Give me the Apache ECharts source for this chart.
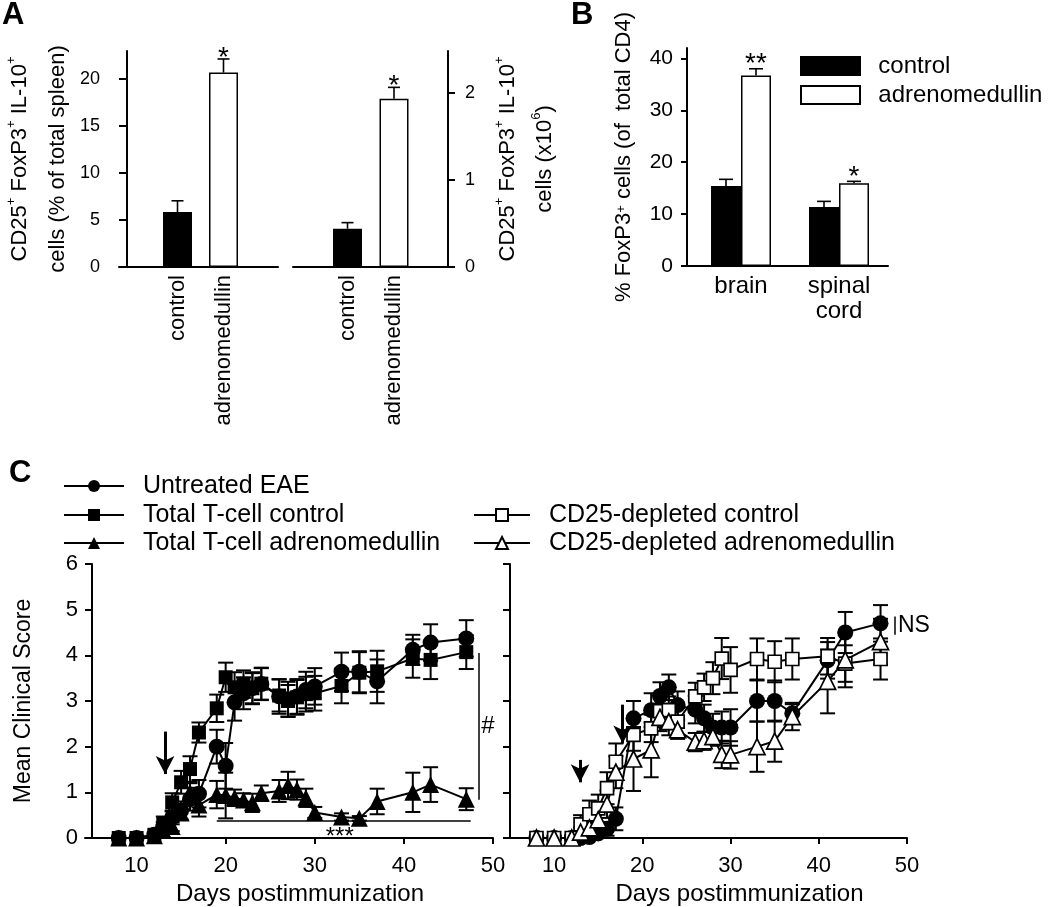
<!DOCTYPE html>
<html><head><meta charset="utf-8">
<script src="https://cdn.jsdelivr.net/npm/echarts@6/dist/echarts.min.js"></script>
<style>html,body{margin:0;padding:0;background:#fff}#c{width:1050px;height:907px}</style>
</head><body><div id="c"></div><script>
const FONT = '"Liberation Sans", Arial, Helvetica, sans-serif';
const BLACK = '#000';

// ---------- Panel A ----------
const aCategories = ['control', 'adrenomedullin'];
const aPercent = [5.85, 20.7];
const aPercentErr = [1.2, 1.45];
const aCount = [0.44, 1.935];
const aCountErr = [0.07, 0.13];
const aSig = ['', '*'];
const aPercentTicks = [0, 5, 10, 15, 20];
const aCountTicks = [0, 1, 2];

// ---------- Panel B ----------
const bCategories = ['brain', 'spinal\ncord'];
const bControl = [15.4, 11.35];
const bControlErr = [1.3, 1.1];
const bAdm = [36.7, 15.96];
const bAdmErr = [1.3, 0.35];
const bControlSig = ['', ''];
const bAdmSig = ['**', '*'];
const bTicks = [0, 10, 20, 30, 40];

// ---------- Panel C ----------
const cDayTicks = [10, 20, 30, 40, 50];
const cScoreTicks = [0, 1, 2, 3, 4, 5, 6];
const daysLeft = [8,10,12,13,14,15,16,17,19,20,21,22,23,24,26,27,28,29,30,33,35,37,41,43,47];
const eaeLeft = [0,0,0.07,0.25,0.45,0.6,0.85,0.97,2.0,1.58,2.97,3.17,3.28,3.37,3.1,3.04,3.1,3.24,3.32,3.64,3.64,3.43,4.12,4.28,4.37];
const eaeLeftErr = [0,0,0.05,0.1,0.15,0.2,0.25,0.3,0.37,0.5,0.4,0.35,0.35,0.35,0.38,0.38,0.38,0.4,0.4,0.42,0.45,0.48,0.33,0.4,0.4];
const tcControl = [0,0,0.07,0.32,0.78,1.22,1.51,2.31,2.84,3.52,3.3,3.37,3.28,3.38,3.12,3.0,3.08,3.15,3.17,3.33,3.62,3.65,3.93,3.9,4.07];
const tcControlErr = [0,0,0.05,0.15,0.2,0.25,0.28,0.22,0.3,0.32,0.33,0.3,0.33,0.35,0.35,0.35,0.38,0.38,0.38,0.38,0.45,0.45,0.42,0.42,0.37];
const tcAdm = [0,0,0.05,0.17,0.25,0.55,1.0,0.72,0.95,0.93,0.88,0.83,0.77,0.98,1.03,1.15,1.06,0.88,0.56,0.46,0.43,0.8,1.0,1.17,0.85];
const tcAdmErr = [0,0,0.04,0.08,0.1,0.15,0.2,0.25,0.3,0.5,0.18,0.15,0.2,0.17,0.24,0.3,0.22,0.2,0.12,0.08,0.05,0.28,0.43,0.38,0.24];

const daysRight = [8,10,12,13,14,15,16,17,19,21,22,23,24,26,27,28,29,30,33,35,37,41,43,47];
const eaeRight = [0,0,0,0,0.02,0.1,0.2,0.42,2.62,2.8,3.11,3.3,2.91,2.81,2.62,2.42,2.42,2.42,3.0,3.0,2.73,3.89,4.5,4.7];
const eaeRightErr = [0,0,0,0,0.05,0.1,0.15,0.25,0.38,0.37,0.3,0.28,0.3,0.3,0.3,0.3,0.35,0.4,0.45,0.45,0.2,0.4,0.45,0.4];
const cdControl = [0,0,0,0.3,0.52,0.65,1.09,1.67,2.26,2.4,2.78,2.8,2.55,3.1,3.3,3.5,3.93,3.68,3.92,3.86,3.92,3.98,3.82,3.92];
const cdControlErr = [0,0,0,0.2,0.3,0.3,0.35,0.4,0.35,0.3,0.35,0.3,0.3,0.3,0.3,0.35,0.45,0.5,0.45,0.45,0.45,0.4,0.4,0.45];
const cdAdm = [0,0,0,0.13,0.22,0.4,0.74,1.44,1.73,1.93,2.64,2.55,2.37,2.1,2.13,2.22,1.83,1.82,2.0,2.12,2.66,3.43,3.9,4.3];
const cdAdmErr = [0,0,0,0.1,0.15,0.2,0.3,0.35,0.7,0.6,0.3,0.3,0.2,0.2,0.2,0.2,0.3,0.3,0.55,0.45,0.3,0.7,0.6,0.5];

// ---------- helpers ----------
const lineSt = {color: BLACK, width: 2};
function dummyX(g) {
  return {type: 'value', gridIndex: g, min: 0, max: 1, axisLine: {show: true, onZero: false, lineStyle: lineSt},
    axisTick: {show: false}, axisLabel: {show: false}, splitLine: {show: false}};
}
function hiddenY(g, max) {
  return {type: 'value', gridIndex: g, min: 0, max: max, show: false, splitLine: {show: false}};
}
function visY(g, max, ticks, o) {
  return Object.assign({type: 'value', gridIndex: g, min: 0, max: max,
    axisLine: {show: true, onZero: false, lineStyle: lineSt},
    axisTick: {show: true, inside: false, length: o.tickLen || 7, lineStyle: lineSt, customValues: ticks},
    axisLabel: {show: o.labels !== false, customValues: ticks, color: BLACK, fontFamily: FONT, fontSize: o.fontSize || 18, margin: o.margin || 10},
    splitLine: {show: false}}, o.extra || {});
}
function catX(g, cats, o) {
  return {type: 'category', gridIndex: g, data: cats, axisLine: {show: false}, axisTick: {show: false},
    axisLabel: Object.assign({color: BLACK, fontFamily: FONT, interval: 0}, o)};
}
function barErr(xi, vals, errs, sig, dx, cap, starDy) {
  return {type: 'custom', xAxisIndex: xi, yAxisIndex: xi, silent: true, z: 5,
    data: vals.map((v, i) => [i, v, errs[i]]),
    renderItem(params, api) {
      const i = api.value(0), v = api.value(1), e = api.value(2);
      const p0 = api.coord([i, v]), p1 = api.coord([i, v + e]);
      const x = p0[0] + dx;
      const ch = [
        {type: 'line', shape: {x1: x, y1: p0[1], x2: x, y2: p1[1]}, style: {stroke: BLACK, lineWidth: 1.6}},
        {type: 'line', shape: {x1: x - cap, y1: p1[1], x2: x + cap, y2: p1[1]}, style: {stroke: BLACK, lineWidth: 1.6}}
      ];
      const s = sig[params.dataIndex];
      if (s) ch.push({type: 'text', x: x, y: p1[1] + starDy,
        style: {text: s, font: '28px ' + FONT, fill: BLACK, align: 'center', verticalAlign: 'middle'}});
      return {type: 'group', children: ch};
    }};
}
function lineErr(xi, days, vals, errs) {
  return {type: 'custom', xAxisIndex: xi, yAxisIndex: xi, silent: true, z: 2,
    data: days.map((d, i) => [d, vals[i], errs[i]]),
    renderItem(params, api) {
      const x = api.value(0), v = api.value(1), e = api.value(2);
      if (!e) return null;
      const t = api.coord([x, v + e]), b = api.coord([x, Math.max(0, v - e)]);
      const w = 7.5;
      const st = {stroke: BLACK, lineWidth: 2};
      return {type: 'group', children: [
        {type: 'line', shape: {x1: t[0], y1: t[1], x2: b[0], y2: b[1]}, style: st},
        {type: 'line', shape: {x1: t[0] - w, y1: t[1], x2: t[0] + w, y2: t[1]}, style: st},
        {type: 'line', shape: {x1: b[0] - w, y1: b[1], x2: b[0] + w, y2: b[1]}, style: st}
      ]};
    }};
}
function lineSeries(name, xi, days, vals, symbol, size, filled, extra) {
  return Object.assign({name: name, type: 'line', xAxisIndex: xi, yAxisIndex: xi,
    data: days.map((d, i) => [d, vals[i]]), symbol: symbol, symbolSize: size, showAllSymbol: true,
    lineStyle: {color: BLACK, width: 2},
    itemStyle: {color: filled ? BLACK : '#fff', borderColor: BLACK, borderWidth: filled ? 0 : 1.7},
    z: 3}, extra || {});
}
const sup = {fontSize: 13, fontFamily: FONT, color: BLACK, verticalAlign: 'top', lineHeight: 14, padding: [4, 0, 0, 0]};
const arrowEnd = {symbol: 'arrow', symbolSize: [14, 18]};
const legendText = {color: BLACK, fontFamily: FONT, fontSize: 25, lineHeight: 26};
function cLegend(name, left, top, w) {
  return {data: [name], left: left, top: top, orient: 'vertical', padding: 0, itemWidth: w, itemHeight: 15,
    selectedMode: false, textStyle: legendText, formatter: n => '  ' + n};
}

const option = {
  animation: false,
  backgroundColor: '#fff',
  textStyle: {fontFamily: FONT},
  graphic: [
    {type: 'text', left: 2, top: 0, style: {text: 'A', font: 'bold 31px ' + FONT, fill: BLACK}},
    {type: 'text', left: 571, top: 0, style: {text: 'B', font: 'bold 31px ' + FONT, fill: BLACK}},
    {type: 'text', left: 9, top: 458, style: {text: 'C', font: 'bold 31px ' + FONT, fill: BLACK}}
  ],
  legend: [
    {data: ['control', 'adrenomedullin'], left: 800, top: 54, orient: 'vertical', padding: 0, itemGap: 5,
      itemWidth: 59, itemHeight: 18, icon: 'rect', selectedMode: false,
      textStyle: {color: BLACK, fontFamily: FONT, fontSize: 24, lineHeight: 24}, formatter: n => '  ' + n},
    cLegend('Untreated EAE', 63, 473, 60),
    cLegend('Total T-cell control', 63, 502, 60),
    cLegend('Total T-cell adrenomedullin', 63, 530, 60),
    cLegend('CD25-depleted control', 473, 502, 56),
    cLegend('CD25-depleted adrenomedullin', 473, 530, 56)
  ],
  grid: [
    {left: 116, top: 51, width: 162, height: 216},
    {left: 154.5, top: 51, width: 92, height: 216},
    {left: 293, top: 51, width: 155, height: 216},
    {left: 324.25, top: 51, width: 93, height: 216},
    {left: 687, top: 48, width: 201, height: 218},
    {left: 692, top: 48, width: 196, height: 218},
    {left: 85, top: 564, width: 408, height: 274},
    {left: 510, top: 564, width: 397, height: 274}
  ],
  xAxis: [
    dummyX(0),
    catX(1, aCategories, {rotate: 90, fontSize: 22, margin: 8}),
    dummyX(2),
    catX(3, aCategories, {rotate: 90, fontSize: 22, margin: 8}),
    dummyX(4),
    catX(5, bCategories, {fontSize: 24, lineHeight: 25, margin: 8}),
    {type: 'value', gridIndex: 6, min: 4.2145, max: 50,
      axisLine: {show: true, onZero: false, lineStyle: lineSt},
      axisTick: {show: true, length: 6, lineStyle: lineSt, customValues: cDayTicks},
      axisLabel: {customValues: cDayTicks, color: BLACK, fontFamily: FONT, fontSize: 22, margin: 17},
      splitLine: {show: false},
      name: 'Days postimmunization', nameLocation: 'middle', nameGap: 44,
      nameTextStyle: {color: BLACK, fontFamily: FONT, fontSize: 24, padding: [0, 0, 0, 22]}},
    {type: 'value', gridIndex: 7, min: 5, max: 50,
      axisLine: {show: true, onZero: false, lineStyle: lineSt},
      axisTick: {show: true, length: 6, lineStyle: lineSt, customValues: cDayTicks},
      axisLabel: {customValues: cDayTicks, color: BLACK, fontFamily: FONT, fontSize: 22, margin: 17},
      splitLine: {show: false},
      name: 'Days postimmunization', nameLocation: 'middle', nameGap: 44,
      nameTextStyle: {color: BLACK, fontFamily: FONT, fontSize: 24, padding: [0, 0, 0, 62]}}
  ],
  yAxis: [
    visY(0, 23, aPercentTicks, {fontSize: 18, margin: 27, tickLen: 8, extra: {offset: -8,
      name: '{m|CD25}{s|+}{m| FoxP3}{s|+}{m| IL-10}{s|+}\n{m|cells (% of total spleen)}',
      nameLocation: 'middle', nameGap: 50,
      nameTextStyle: {color: BLACK, rich: {m: {fontSize: 22, fontFamily: FONT, color: BLACK, lineHeight: 38}, s: sup}}}}),
    hiddenY(1, 23),
    visY(2, 2.483, aCountTicks, {fontSize: 18, margin: 17, tickLen: 7, extra: {position: 'right',
      name: '{m|CD25}{s|+}{m| FoxP3}{s|+}{m| IL-10}{s|+}\n{m|cells (x10}{s|6}{m|)}',
      nameLocation: 'middle', nameGap: 41,
      nameTextStyle: {color: BLACK, rich: {m: {fontSize: 22, fontFamily: FONT, color: BLACK, lineHeight: 37}, s: sup}}}}),
    hiddenY(3, 2.483),
    visY(4, 42, bTicks, {fontSize: 21, margin: 14, tickLen: 6, extra: {
      name: '{m|% FoxP3}{s|+}{m| cells (of  total CD4)}',
      nameLocation: 'middle', nameGap: 50,
      nameTextStyle: {color: BLACK, rich: {m: {fontSize: 22, fontFamily: FONT, color: BLACK, lineHeight: 26}, s: sup}}}}),
    hiddenY(5, 42),
    visY(6, 6, cScoreTicks, {fontSize: 22, margin: 14, tickLen: 7, extra: {offset: -7, interval: 1,
      name: 'Mean Clinical Score', nameLocation: 'middle', nameGap: 57,
      nameTextStyle: {color: BLACK, fontFamily: FONT, fontSize: 23}}}),
    visY(7, 6, cScoreTicks, {labels: false, tickLen: 7, extra: {interval: 1}})
  ],
  series: [
    // Panel A
    {name: 'pct', type: 'bar', xAxisIndex: 1, yAxisIndex: 1, barWidth: 29,
      data: aPercent.map((v, i) => ({value: v, itemStyle: {color: ['#000', '#fff'][i]}})),
      itemStyle: {borderColor: BLACK, borderWidth: 1.5}},
    barErr(1, aPercent, aPercentErr, aSig, 0, 6, -1),
    {name: 'cnt', type: 'bar', xAxisIndex: 3, yAxisIndex: 3, barWidth: 29,
      data: aCount.map((v, i) => ({value: v, itemStyle: {color: ['#000', '#fff'][i]}})),
      itemStyle: {borderColor: BLACK, borderWidth: 1.5}},
    barErr(3, aCount, aCountErr, aSig, 0, 6, -1),
    // Panel B
    {name: 'control', type: 'bar', xAxisIndex: 5, yAxisIndex: 5, barWidth: 30, barGap: '0%',
      data: bControl, itemStyle: {color: BLACK, borderColor: BLACK, borderWidth: 1.5}},
    {name: 'adrenomedullin', type: 'bar', xAxisIndex: 5, yAxisIndex: 5, barWidth: 30, barGap: '0%',
      data: bAdm, itemStyle: {color: '#fff', borderColor: BLACK, borderWidth: 1.5}},
    barErr(5, bControl, bControlErr, bControlSig, -15, 7, -4),
    barErr(5, bAdm, bAdmErr, bAdmSig, 15, 7, -4),
    // Panel C left
    lineErr(6, daysLeft, eaeLeft, eaeLeftErr),
    lineErr(6, daysLeft, tcControl, tcControlErr),
    lineErr(6, daysLeft, tcAdm, tcAdmErr),
    lineSeries('Untreated EAE', 6, daysLeft, eaeLeft, 'circle', 16, true),
    lineSeries('Total T-cell control', 6, daysLeft, tcControl, 'rect', 14, true),
    lineSeries('Total T-cell adrenomedullin', 6, daysLeft, tcAdm, 'triangle', 17, true, {
      markLine: {silent: true, symbol: ['none', 'none'], label: {show: false}, animation: false,
        lineStyle: {color: BLACK, width: 1.5, type: 'solid'},
        data: [
          [{coord: [19, 0.38]}, {coord: [47.5, 0.38]}],
          [{coord: [48.4, 4.05]}, {coord: [48.4, 0.84]}],
          [{coord: [13.2, 2.33], lineStyle: {width: 3}}, Object.assign({coord: [13.2, 1.4]}, arrowEnd)]
        ]},
      markPoint: {silent: true, symbol: 'circle', symbolSize: 0, animation: false,
        label: {show: true, position: 'inside', color: BLACK, fontFamily: FONT, fontSize: 24},
        data: [
          {coord: [49.44, 2.45], label: {formatter: '#'}},
          {coord: [32.8, 0.12], label: {formatter: '***', offset: [0, 5]}}
        ]}
    }),
    // Panel C right
    lineErr(7, daysRight, eaeRight, eaeRightErr),
    lineErr(7, daysRight, cdControl, cdControlErr),
    lineErr(7, daysRight, cdAdm, cdAdmErr),
    lineSeries('Untreated EAE', 7, daysRight, eaeRight, 'circle', 16, true),
    lineSeries('CD25-depleted control', 7, daysRight, cdControl, 'rect', 13, false),
    lineSeries('CD25-depleted adrenomedullin', 7, daysRight, cdAdm, 'triangle', 16, false, {
      markLine: {silent: true, symbol: ['none', 'none'], label: {show: false}, animation: false,
        lineStyle: {color: BLACK, width: 1.5, type: 'solid'},
        data: [
          [{coord: [48.64, 4.85]}, {coord: [48.64, 4.45]}],
          [{coord: [12.94, 1.71], lineStyle: {width: 3}}, Object.assign({coord: [12.94, 1.22]}, arrowEnd)],
          [{coord: [17.77, 2.92], lineStyle: {width: 3}}, Object.assign({coord: [17.77, 2.07]}, arrowEnd)]
        ]},
      markPoint: {silent: true, symbol: 'circle', symbolSize: 0, animation: false,
        label: {show: true, position: 'right', distance: 3, color: BLACK, fontFamily: FONT, fontSize: 23},
        data: [{coord: [48.64, 4.65], label: {formatter: 'NS'}}]}
    })
  ]
};
const chart = echarts.init(document.getElementById('c'));
chart.setOption(option);
</script></body></html>
